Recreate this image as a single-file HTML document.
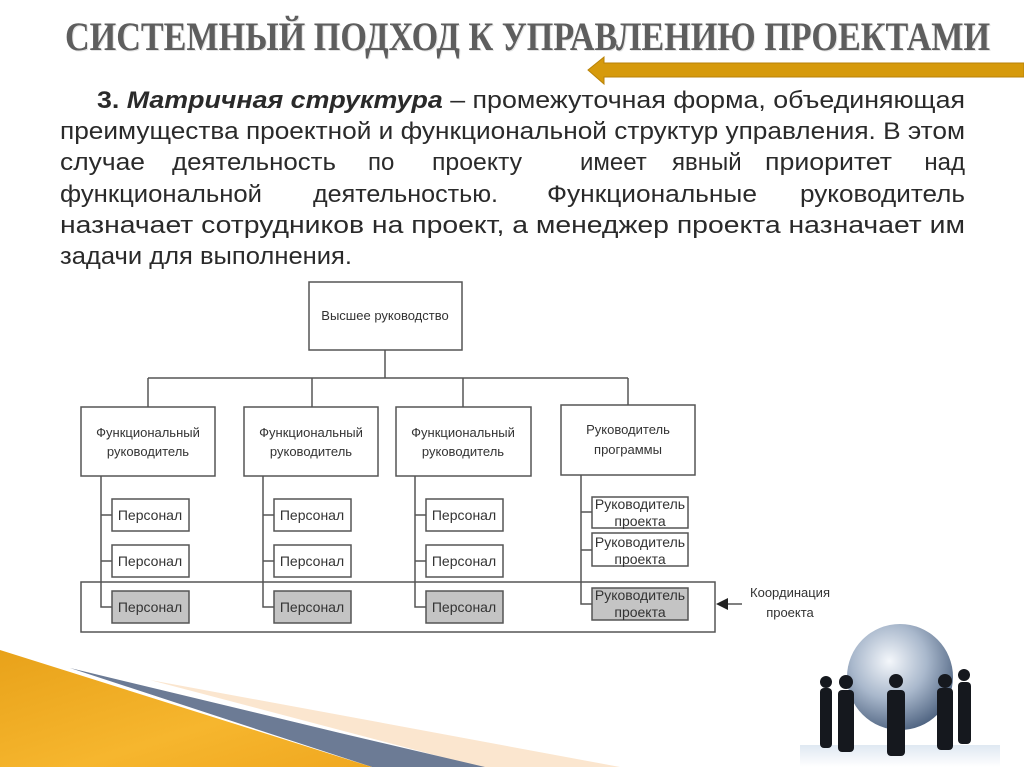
<!DOCTYPE html>
<html><head><meta charset="utf-8"><style>
html,body{margin:0;padding:0;background:#fff;}
svg{display:block;}
</style></head><body>
<svg width="1024" height="767" viewBox="0 0 1024 767" xmlns="http://www.w3.org/2000/svg">
<defs>
<linearGradient id="gold" x1="0" y1="0" x2="1" y2="1">
<stop offset="0" stop-color="#e8a21a"/><stop offset="0.6" stop-color="#f6b62e"/><stop offset="1" stop-color="#f0a820"/>
</linearGradient>
<radialGradient id="globe" cx="0.4" cy="0.35" r="0.7">
<stop offset="0" stop-color="#f4f7fb"/><stop offset="0.5" stop-color="#a9b8cc"/><stop offset="1" stop-color="#4a5f7d"/>
</radialGradient>
<linearGradient id="refl" x1="0" y1="0" x2="0" y2="1">
<stop offset="0" stop-color="#dfe8f2"/><stop offset="1" stop-color="#ffffff"/>
</linearGradient>
</defs>

<text x="66" y="51" font-family="Liberation Serif, serif" font-weight="bold" font-size="40" fill="#e4e4e4" textLength="925" lengthAdjust="spacingAndGlyphs">СИСТЕМНЫЙ ПОДХОД К УПРАВЛЕНИЮ ПРОЕКТАМИ</text>
<text x="65" y="50" font-family="Liberation Serif, serif" font-weight="bold" font-size="40" fill="#5e5e5e" textLength="925" lengthAdjust="spacingAndGlyphs">СИСТЕМНЫЙ ПОДХОД К УПРАВЛЕНИЮ ПРОЕКТАМИ</text>

<polygon points="588,70 604,57 604,63 1024,63 1024,77 604,77 604,84" fill="#d69a0c" stroke="#b88208" stroke-width="1"/>

<g font-family="Liberation Sans, Arial, sans-serif" font-size="24" fill="#2a2a2a">
<text x="97" y="108" textLength="868" lengthAdjust="spacingAndGlyphs"><tspan font-weight="bold">3. </tspan><tspan font-weight="bold" font-style="italic">Матричная структура</tspan> – промежуточная форма, объединяющая</text>
<text x="60" y="139" textLength="905" lengthAdjust="spacingAndGlyphs">преимущества проектной и функциональной структур управления. В этом</text>
<text x="60" y="170" textLength="85" lengthAdjust="spacingAndGlyphs">случае</text>
<text x="172" y="170" textLength="164" lengthAdjust="spacingAndGlyphs">деятельность</text>
<text x="368" y="170">по</text>
<text x="432" y="170" textLength="90" lengthAdjust="spacingAndGlyphs">проекту</text>
<text x="580" y="170">имеет</text>
<text x="672" y="170">явный</text>
<text x="765" y="170" textLength="127" lengthAdjust="spacingAndGlyphs">приоритет</text>
<text x="965" y="170" text-anchor="end">над</text>
<text x="60" y="202" textLength="202" lengthAdjust="spacingAndGlyphs">функциональной</text>
<text x="313" y="202" textLength="185" lengthAdjust="spacingAndGlyphs">деятельностью.</text>
<text x="547" y="202" textLength="210" lengthAdjust="spacingAndGlyphs">Функциональные</text>
<text x="800" y="202" textLength="165" lengthAdjust="spacingAndGlyphs">руководитель</text>
<text x="60" y="233" textLength="905" lengthAdjust="spacingAndGlyphs">назначает  сотрудников  на  проект,  а  менеджер  проекта  назначает  им</text>
<text x="60" y="264" textLength="292" lengthAdjust="spacingAndGlyphs">задачи для выполнения.</text>
</g>

<g stroke="#555" stroke-width="1.5" fill="none">
<rect x="309" y="282" width="153" height="68" fill="#fff"/>
<line x1="385" y1="350" x2="385" y2="378"/>
<line x1="148" y1="378" x2="628" y2="378"/>
<line x1="148" y1="378" x2="148" y2="407"/>
<line x1="312" y1="378" x2="312" y2="407"/>
<line x1="463" y1="378" x2="463" y2="407"/>
<line x1="628" y1="378" x2="628" y2="405"/>
<rect x="81" y="407" width="134" height="69" fill="#fff"/>
<rect x="244" y="407" width="134" height="69" fill="#fff"/>
<rect x="396" y="407" width="135" height="69" fill="#fff"/>
<rect x="561" y="405" width="134" height="70" fill="#fff"/>
<rect x="81" y="582" width="634" height="50"/>
<path d="M101 476 V607 H112 M101 515 H112 M101 561 H112"/>
<path d="M263 476 V607 H274 M263 515 H274 M263 561 H274"/>
<path d="M415 476 V607 H426 M415 515 H426 M415 561 H426"/>
<path d="M581 475 V604 H592 M581 512 H592 M581 550 H592"/>
<rect x="112" y="499" width="77" height="32" fill="#fff"/>
<rect x="112" y="545" width="77" height="32" fill="#fff"/>
<rect x="112" y="591" width="77" height="32" fill="#c4c4c4"/>
<rect x="274" y="499" width="77" height="32" fill="#fff"/>
<rect x="274" y="545" width="77" height="32" fill="#fff"/>
<rect x="274" y="591" width="77" height="32" fill="#c4c4c4"/>
<rect x="426" y="499" width="77" height="32" fill="#fff"/>
<rect x="426" y="545" width="77" height="32" fill="#fff"/>
<rect x="426" y="591" width="77" height="32" fill="#c4c4c4"/>
<rect x="592" y="497" width="96" height="31" fill="#fff"/>
<rect x="592" y="533" width="96" height="33" fill="#fff"/>
<rect x="592" y="588" width="96" height="32" fill="#c4c4c4"/>
<line x1="742" y1="604" x2="726" y2="604"/>
</g>
<polygon points="716,604 728,598 728,610" fill="#222"/>

<g font-family="Liberation Sans, Arial, sans-serif" font-size="13" fill="#333" text-anchor="middle">
<text x="385" y="320">Высшее руководство</text>
<text x="148" y="437">Функциональный</text><text x="148" y="456">руководитель</text>
<text x="311" y="437">Функциональный</text><text x="311" y="456">руководитель</text>
<text x="463" y="437">Функциональный</text><text x="463" y="456">руководитель</text>
<text x="628" y="434">Руководитель</text><text x="628" y="454">программы</text>
<g font-size="14">
<text x="150" y="520">Персонал</text><text x="150" y="566">Персонал</text><text x="150" y="612">Персонал</text>
<text x="312" y="520">Персонал</text><text x="312" y="566">Персонал</text><text x="312" y="612">Персонал</text>
<text x="464" y="520">Персонал</text><text x="464" y="566">Персонал</text><text x="464" y="612">Персонал</text>
<text x="640" y="509">Руководитель</text><text x="640" y="526">проекта</text>
<text x="640" y="547">Руководитель</text><text x="640" y="564">проекта</text>
<text x="640" y="600">Руководитель</text><text x="640" y="617">проекта</text>
</g>
<text x="790" y="597">Координация</text><text x="790" y="617">проекта</text>
</g>

<polygon points="150,680 340,715 620,767 480,767" fill="#fbe6cf"/>
<polygon points="70,668 340,733 485,767 372,767" fill="#6c7b95"/>
<polygon points="0,650 340,757 372,767 0,767" fill="url(#gold)"/>

<rect x="800" y="745" width="200" height="22" fill="url(#refl)"/>
<circle cx="900" cy="677" r="53" fill="url(#globe)"/>
<g fill="#15181e">
<rect x="820" y="688" width="12" height="60" rx="4"/><circle cx="826" cy="682" r="6"/>
<rect x="838" y="690" width="16" height="62" rx="4"/><circle cx="846" cy="682" r="7"/>
<rect x="887" y="690" width="18" height="66" rx="4"/><circle cx="896" cy="681" r="7"/>
<rect x="937" y="688" width="16" height="62" rx="4"/><circle cx="945" cy="681" r="7"/>
<rect x="958" y="682" width="13" height="62" rx="4"/><circle cx="964" cy="675" r="6"/>
</g>
</svg>
</body></html>
